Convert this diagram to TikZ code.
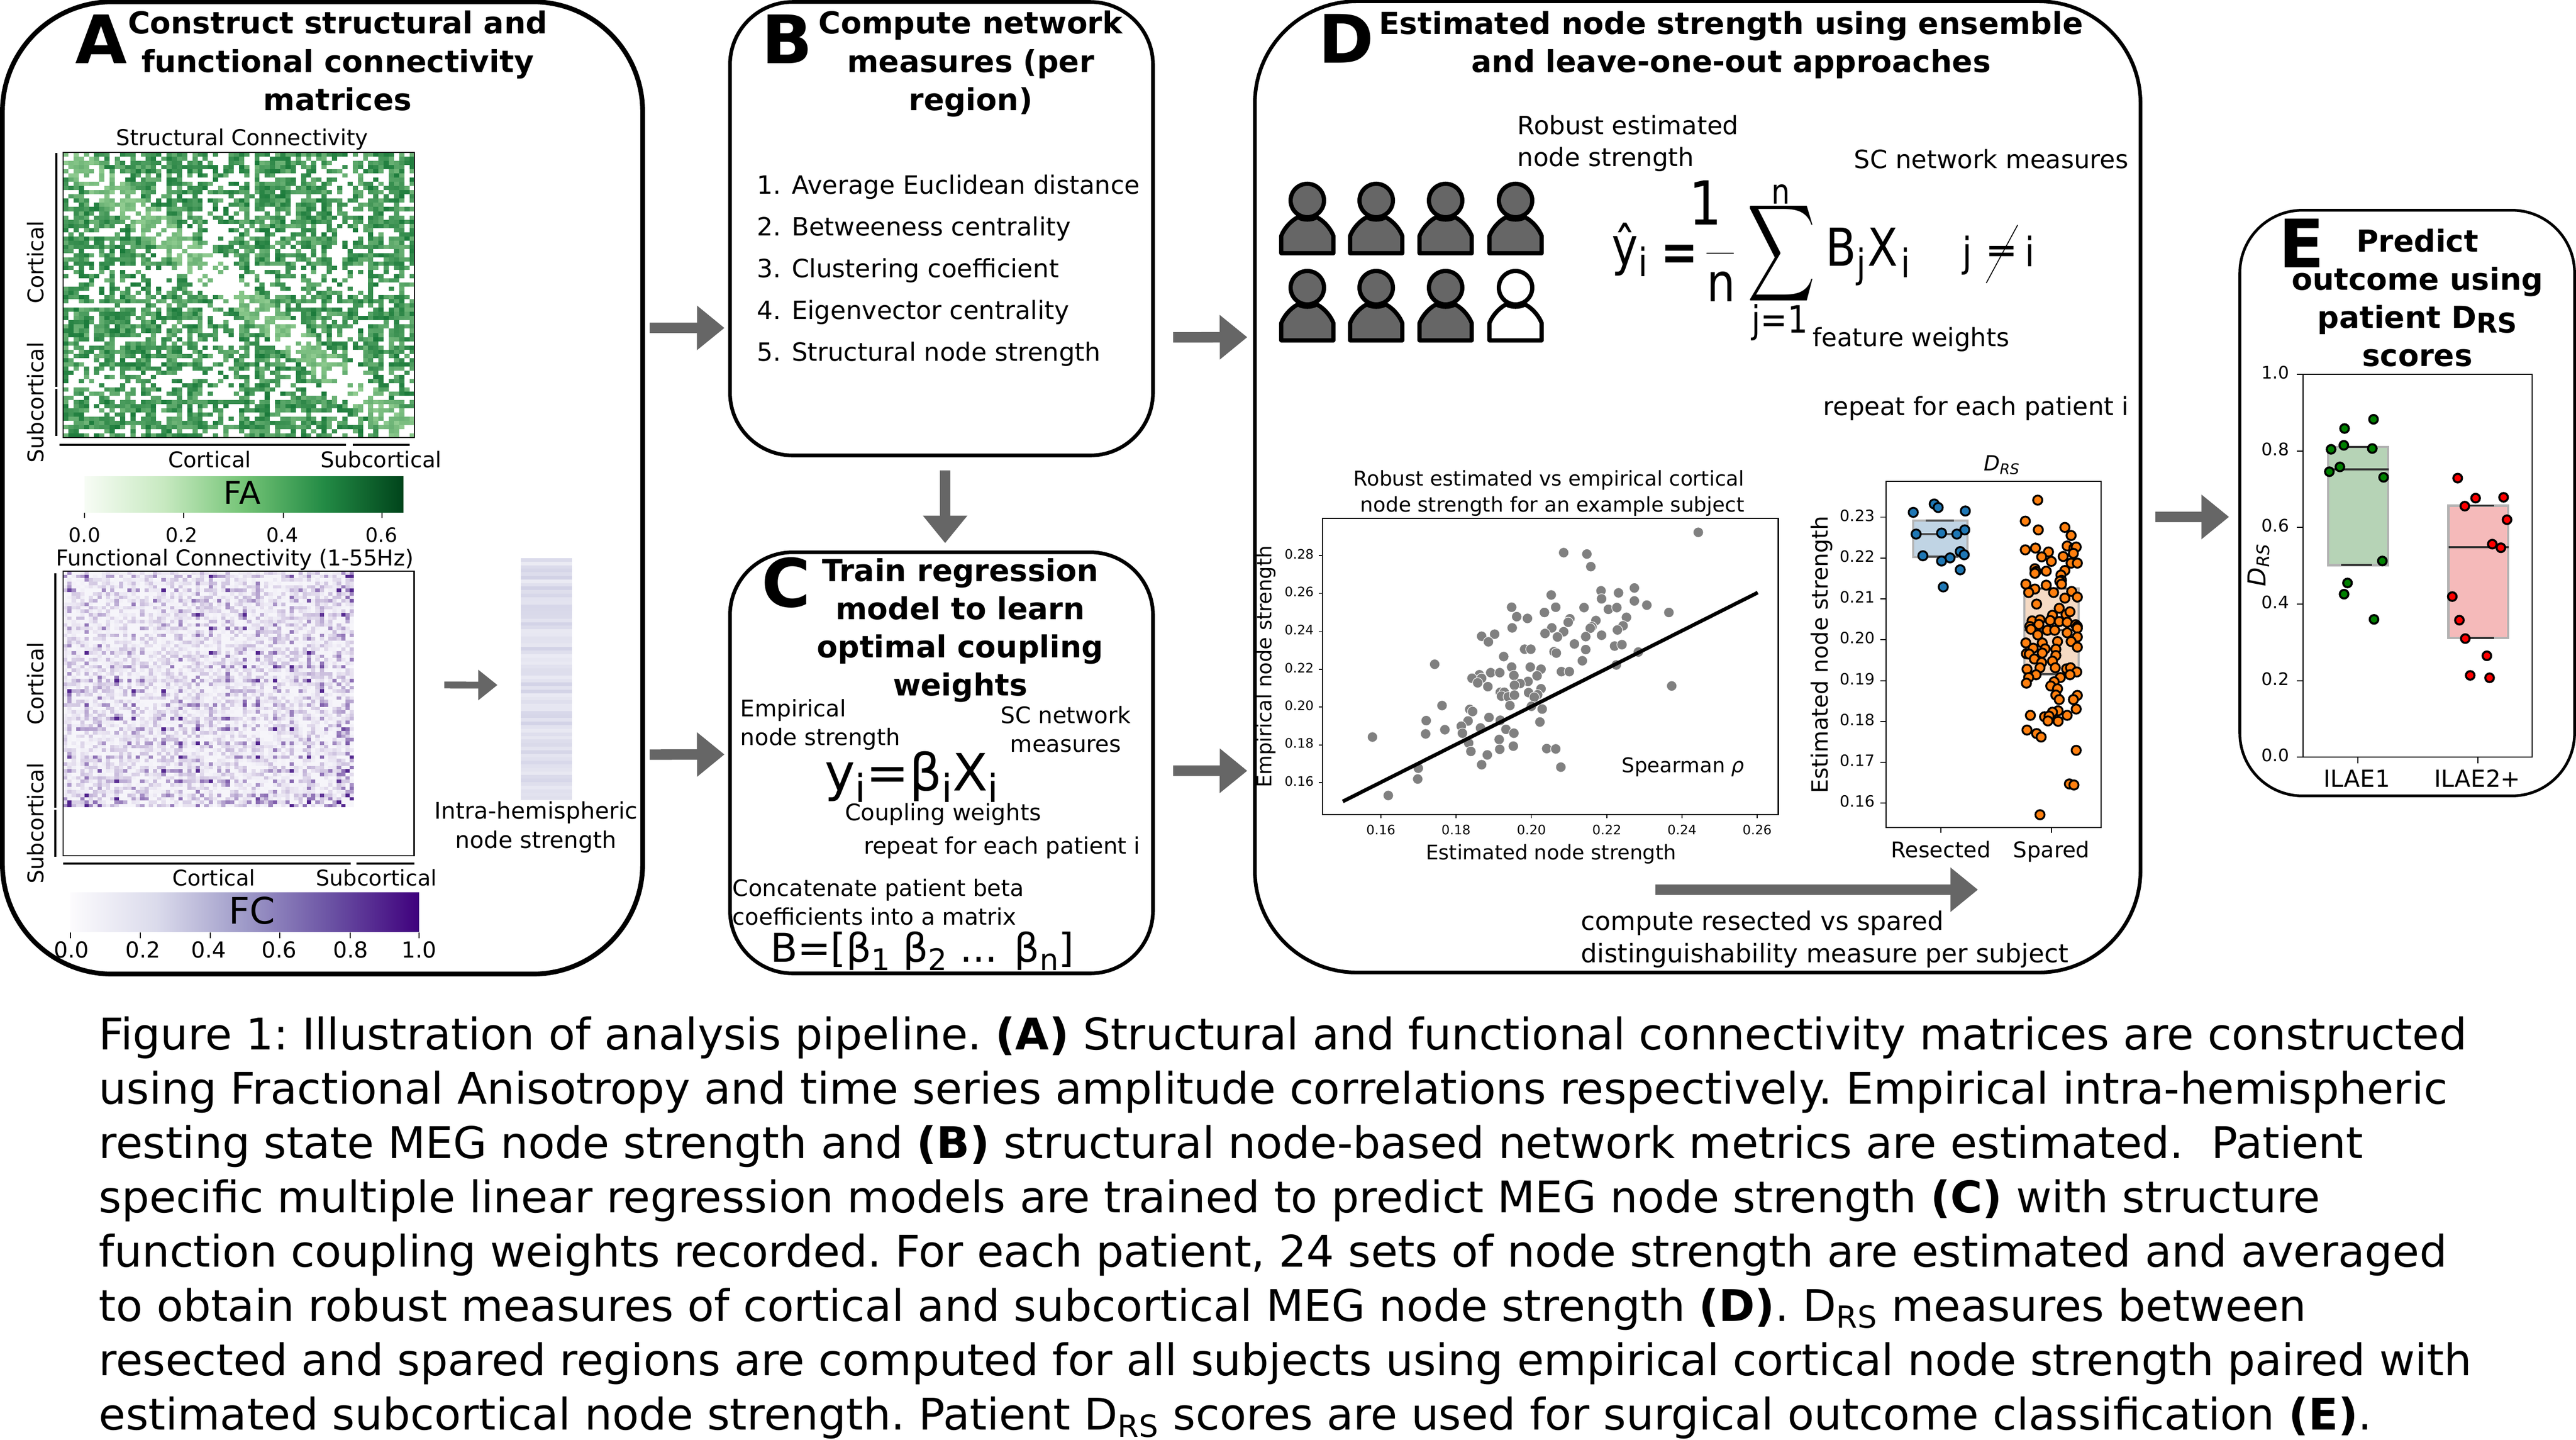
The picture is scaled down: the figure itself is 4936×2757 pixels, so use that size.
\documentclass[tikz,border=0pt]{standalone}
\usepackage{fontspec}
\usepackage{graphicx}
\setmainfont{DejaVu Sans}
\newfontfamily\formulafont[FakeStretch=.85]{DejaVu Sans}
\usetikzlibrary{arrows.meta}

\definecolor{arrowgray}{HTML}{666666}
\definecolor{gr0}{HTML}{F7FCF5}
\definecolor{gr1}{HTML}{C7E9C0}
\definecolor{gr2}{HTML}{74C476}
\definecolor{gr3}{HTML}{238B45}
\definecolor{gr4}{HTML}{00441B}
\definecolor{pu0}{HTML}{FCFBFD}
\definecolor{pu1}{HTML}{DADAEB}
\definecolor{pu2}{HTML}{9E9AC8}
\definecolor{pu3}{HTML}{6A51A3}
\definecolor{pu4}{HTML}{3F007D}
\definecolor{smdark}{HTML}{1A7A3A}
\definecolor{smlight}{HTML}{A6DBA0}
\definecolor{fcdark}{HTML}{54278F}
\definecolor{fclight}{HTML}{F6F5FA}
\definecolor{stripcol}{HTML}{D2D2E6}
\definecolor{dotblue}{HTML}{1F77B4}
\definecolor{dotorange}{HTML}{FF7F0E}
\definecolor{dotgreen}{HTML}{008000}
\definecolor{boxblue}{HTML}{C0D4E4}
\definecolor{boxorange}{HTML}{F5DAC4}
\definecolor{boxgreen}{HTML}{B6D3B6}
\definecolor{boxred}{HTML}{F5BABA}
\pgfdeclarehorizontalshading{greensbar}{100bp}{color(0bp)=(gr0);color(25bp)=(gr0);color(37.5bp)=(gr1);color(50bp)=(gr2);color(62.5bp)=(gr3);color(75bp)=(gr4);color(100bp)=(gr4)}
\pgfdeclarehorizontalshading{purplesbar}{100bp}{color(0bp)=(pu0);color(25bp)=(pu0);color(37.5bp)=(pu1);color(50bp)=(pu2);color(62.5bp)=(pu3);color(75bp)=(pu4);color(100bp)=(pu4)}
\newcommand{\lowsub}[1]{\raisebox{-.22em}{\scalebox{.75}{#1}}}

\tikzset{
  panel/.style = {draw, rectangle, rounded corners = 1.2cm, line width = 2pt, inner sep = 0},
  lab/.style = {inner sep = 0, execute at begin node = \strut, execute at end node = \strut},
  fs/.style = {lab, font = \fontsize{#1}{\fpeval{1.26*#1}}\selectfont},
  title/.style = {lab, align = center, font = \fontsize{16.5}{20.8}\bfseries\selectfont},
  bigletter/.style = {lab, font = \fontsize{36.4}{40}\bfseries\selectfont},
  formula/.style = {inner sep = 0, anchor = base west, font = \formulafont\fontsize{#1}{#1}\selectfont},
  blockarrow/.style = {draw = arrowgray, line width = 5.7pt, -{Triangle[width = 23.3pt, length = 15pt]}},
  smallarrow/.style = {draw = arrowgray, line width = 3.7pt, -{Triangle[width = 16pt, length = 10.5pt]}},
  frame/.style = {draw, rectangle, inner sep = 0, line width = .7pt},
  bar/.style = {line width = 1.3pt},
  person/.pic = {
    \draw [line width = 2.3pt, line join = round, fill = #1] (-50, 101) -- (-50, 68) .. controls (-44, 52) and (-30, 38) .. (-18, 32) .. controls (-8, 38) and (8, 38) .. (18, 32) .. controls (30, 38) and (44, 52) .. (50, 68) -- (50, 101) -- cycle;
    \draw [line width = 2.3pt, fill = #1] (0, 0) circle [x radius = 32, y radius = 32];
  }
}

\begin{document}
\begin{tikzpicture}[x = .01cm, y = -.01cm]
  \useasboundingbox (0, 0) rectangle (4936, 2757);

  % panels
  \node [panel, line width = 2.6pt, rounded corners = 2.1cm, minimum width = 12.26cm, minimum height = 18.61cm] (panelA) at (618, 934.5) {};
  \node [panel, minimum width = 8.1cm, minimum height = 8.68cm] (panelB) at (1804, 438) {};
  \node [panel, minimum width = 8.1cm, minimum height = 8.06cm] (panelC) at (1804, 1461) {};
  \node [panel, rounded corners = 1.95cm, minimum width = 16.96cm, minimum height = 18.59cm] (panelD) at (3253, 932.5) {};
  \node [panel, line width = 1.5pt, minimum width = 6.41cm, minimum height = 11.21cm] (panelE) at (4612.5, 963.5) {};

  % arrows between panels
  \draw [blockarrow] ([xshift = .09cm, yshift = 3.065cm] panelA.east) -- ([xshift = -.07cm, yshift = -1.9cm] panelB.west);
  \draw [blockarrow] ([xshift = .09cm, yshift = -5.105cm] panelA.east) -- ([xshift = -.07cm, yshift = .16cm] panelC.west);
  \draw [blockarrow] ([xshift = .35cm, yshift = -2.08cm] panelB.east) -- ([xshift = -.11cm, yshift = 2.865cm] panelD.west);
  \draw [blockarrow] ([xshift = .35cm, yshift = -.15cm] panelC.east) -- ([xshift = -.11cm, yshift = -5.435cm] panelD.west);
  \draw [blockarrow] ([xshift = .07cm, yshift = -.25cm] panelB.south) -- ([xshift = .07cm, yshift = .14cm] panelC.north);
  \draw [blockarrow] ([xshift = .25cm, yshift = -.575cm] panelD.east) -- ([xshift = -.18cm, yshift = -.265cm] panelE.west);

  % panel A
  \node [bigletter] (letterA) at (194, 93) {A};
  \node [title] (titleA) at (647, 127) {Construct structural and\\functional connectivity\\matrices};
  \node [fs = 11.9] (scTitle) at (464, 268) {Structural Connectivity};

  \pgfmathsetseed{23}
  \begin{scope}[shift = {(121, 292)}, x = .099cm, y = -.0803cm]
    \foreach \i in {0, ..., 67} {
      \pgfmathsetmacro\ri{((\i>26 && \i<34) || (\i>51 && \i<59)) ? .55 : (sin(\i*83)>.5 ? .6 : 1)}
      \foreach \j in {\i, ..., 67} {
        \pgfmathsetmacro\rj{((\j>26 && \j<34) || (\j>51 && \j<59)) ? .55 : (sin(\j*83)>.5 ? .6 : 1)}
        \pgfmathsetmacro\val{rnd}
        \pgfmathsetmacro\thr{\ri*\rj*.9}
        \ifdim\val pt<\thr pt
          \pgfmathtruncatemacro\pc{(abs(\i-\j)<5 ? 15 : 40) + (abs(\i-\j)<5 ? 30 : 60)*rnd}
          \fill [smdark!\pc!smlight] (\j, \i) rectangle +(1, 1);
          \fill [smdark!\pc!smlight] (\i, \j) rectangle +(1, 1);
        \fi
      }
    }
  \end{scope}
  \node [frame, minimum width = 6.73cm, minimum height = 5.46cm] (scBox) at (457.5, 565) {};
  \draw [bar] (108, 293) -- (108, 741);
  \draw [bar] (108, 745) -- (108, 835);
  \draw [bar] (114, 852) -- (663, 852);
  \draw [bar] (676, 852) -- (785, 852);
  \node [fs = 11.8, rotate = 90] (scCortY) at (73, 502) {Cortical};
  \node [fs = 11.8, rotate = 90] (scSubY) at (73, 771) {Subcortical};
  \node [fs = 11.8] (scCortX) at (402, 885) {Cortical};
  \node [fs = 11.8] (scSubX) at (730, 885) {Subcortical};

  \node [rectangle, inner sep = 0, shading = greensbar, minimum width = 6.11cm, minimum height = .68cm] (faBar) at (467.5, 947) {};
  \node [fs = 17.1] (faLabel) at (464, 950) {FA};
  \foreach \tx/\lx/\v [count = \n] in {162/162/0.0, 352/348/0.2, 543/541/0.4, 732/731/0.6} {
    \draw [line width = .6pt] (\tx, 982) -- (\tx, 992);
    \node [fs = 10.8] (faTick\n) at (\lx, 1029) {\v};
  }

  \node [fs = 11.9] (fcTitle) at (450, 1073) {Functional Connectivity (1-55Hz)};
  \pgfmathsetseed{5}
  \begin{scope}[shift = {(121, 1094)}, x = .0819cm, y = -.0665cm]
    \foreach \i in {0, ..., 67} {
      \pgfmathsetmacro\ri{(\i>63 || sin(\i*97)>.7) ? 1 : .45}
      \foreach \j in {\i, ..., 67} {
        \pgfmathsetmacro\rj{(\j>63 || sin(\j*97)>.7) ? 1 : .45}
        \pgfmathsetmacro\val{rnd}
        \pgfmathtruncatemacro\pc{\i==\j ? 0 : min(100, 100*\ri*\rj*\val*\val*(\val+.3)*1.1)}
        \fill [fcdark!\pc!fclight] (\j, \i) rectangle +(1, 1);
        \fill [fcdark!\pc!fclight] (\i, \j) rectangle +(1, 1);
      }
    }
  \end{scope}
  \node [frame, minimum width = 6.725cm, minimum height = 5.45cm] (fcBox) at (457.25, 1366.5) {};
  \draw [bar] (106, 1098) -- (106, 1547);
  \draw [bar] (106, 1551) -- (106, 1641);
  \draw [bar] (121, 1654) -- (672, 1654);
  \draw [bar] (683, 1654) -- (794, 1654);
  \node [fs = 11.8, rotate = 90] (fcCortY) at (73, 1309) {Cortical};
  \node [fs = 11.8, rotate = 90] (fcSubY) at (73, 1577) {Subcortical};
  \node [fs = 11.8] (fcCortX) at (410, 1686) {Cortical};
  \node [fs = 11.8] (fcSubX) at (721, 1686) {Subcortical};

  \node [rectangle, inner sep = 0, shading = purplesbar, minimum width = 6.68cm, minimum height = .75cm] (fcBar) at (469, 1746.5) {};
  \node [fs = 19.9] (fcLabel) at (483, 1752) {FC};
  \foreach \tx/\lx/\v [count = \n] in {135/137/0.0, 269/274/0.2, 403/400/0.4, 536/535/0.6, 671/672/0.8, 803/803/1.0} {
    \draw [line width = .6pt] (\tx, 1786) -- (\tx, 1797);
    \node [fs = 12] (fcTick\n) at (\lx, 1824) {\v};
  }

  \node [rectangle, inner sep = 0, minimum width = .98cm, minimum height = 4.63cm] (fcStrip) at (1047, 1300.5) {};
  \foreach \i in {0, ..., 67} {
    \pgfmathtruncatemacro\pc{45+55*rnd}
    \fill [stripcol!\pc!white] (998, {1069+6.81*\i}) rectangle (1096, {1069+6.81*(\i+1)});
  }
  \draw [smallarrow] ([xshift = .565cm, yshift = .545cm] fcBox.east) -- ([xshift = -.44cm, yshift = -.115cm] fcStrip.west);
  \node [fs = 12.5, align = center] (stripLabel) at (1027, 1588) {Intra-hemispheric\\node strength};

  % panel B
  \node [bigletter] (letterB) at (1508, 93) {B};
  \node [title] (titleB) at (1860, 127) {Compute network\\measures (per\\region)};
  \node [lab, anchor = west, fs = 13.7] (listOne) at (1450, 359) {1. Average Euclidean distance};
  \node [lab, anchor = west, fs = 13.7] (listTwo) at (1450, 439) {2. Betweeness centrality};
  \node [lab, anchor = west, fs = 13.7] (listThree) at (1450, 519) {3. Clustering coefficient};
  \node [lab, anchor = west, fs = 13.7] (listFour) at (1450, 599) {4. Eigenvector centrality};
  \node [lab, anchor = west, fs = 13.7] (listFive) at (1450, 679) {5. Structural node strength};

  % panel C
  \node [bigletter] (letterC) at (1506, 1134) {C};
  \node [title] (titleC) at (1840, 1212) {Train regression\\model to learn\\optimal coupling\\weights};
  \node [anchor = west, fs = 12.4, align = left] (empLabel) at (1418, 1392) {Empirical\\node strength};
  \node [fs = 12.4, align = center] (scLabel) at (2042, 1405) {SC network\\measures};
  \node [fs = 28] (regEq) at (1747, 1490) {y\lowsub{i}=β\lowsub{i}X\lowsub{i}};
  \node [fs = 12.4] (coupLabel) at (1807, 1560) {Coupling weights};
  \node [fs = 12.4] (repeatC) at (1920, 1624) {repeat for each patient i};
  \node [anchor = west, fs = 12.4, align = left] (concatLabel) at (1403, 1736) {Concatenate patient beta\\coefficients into a matrix};
  \node [fs = 21.6] (matEq) at (1767, 1823) {B=[β\lowsub{1} β\lowsub{2} ... β\lowsub{n}]};

  % panel D
  \node [bigletter] (letterD) at (2580, 92) {D};
  \node [title] (titleD) at (3317, 91) {Estimated node strength using ensemble\\and leave-one-out approaches};
  \node [anchor = west, fs = 13.7, align = left] (robustLabel) at (2907, 279) {Robust estimated\\node strength};
  \node [anchor = west, fs = 13.7] (scMeasures) at (3552, 310) {SC network measures};
  \foreach \colx/\rowy/\pcol [count = \n] in {2505/384/arrowgray, 2637/384/arrowgray, 2770/384/arrowgray, 2904/384/arrowgray, 2505/551/arrowgray, 2637/551/arrowgray, 2770/551/arrowgray, 2904/551/white}
    \pic (person\n) at (\colx, \rowy) {person = \pcol};
  \node [formula = 28.5] (eqHat) at (3088, 507) {\^y\lowsub{i}};
  \node [formula = 28.5] (eqEq) at (3182, 517) {\bfseries =};
  \node [formula = 33] (eqOne) at (3236, 430) {1};
  \draw [line width = .6pt] (3270, 485) -- (3322, 485);
  \node [formula = 29] (eqN) at (3270, 577) {n};
  \node [inner sep = 0] (eqSum) at (3414, 485) {\resizebox{1.3cm}{1.36cm}{$\displaystyle\sum$}};
  \node [formula = 18.8] (eqTop) at (3394, 390) {n};
  \node [formula = 20.5] (eqBot) at (3356, 637) {j=1};
  \node [formula = 28.5] (eqBX) at (3498, 509) {B\lowsub{j}\kern1pt X\lowsub{\kern2pt i}};
  \node [formula = 22] (eqJ) at (3760, 510) {j};
  \node [inner sep = 0] (eqNe) at (3835, 485) {\resizebox{.62cm}{.28cm}{\bfseries =}};
  \coordinate (neTop) at (3866, 431);
  \coordinate (neBottom) at (3806, 542);
  \draw [line width = .5pt] (neTop) -- (neBottom);
  \node [formula = 22] (eqI) at (3880, 510) {i};
  \node [anchor = west, fs = 13.7] (featLabel) at (3473, 651) {feature weights};
  \node [anchor = west, fs = 13.7] (repeatD) at (3493, 783) {repeat for each patient i};

  % scatter
  \node [fs = 11.1, align = right, anchor = east] (scatTitle) at (3343, 948) {Robust estimated vs empirical cortical\\node strength for an example subject};
  \begin{scope}[shift = {(2400, 850)}, x = .010841cm, y = -.006697cm]
    \foreach \x/\y in {788/253,550/311,591/315,598/351,675/412,616/420,647/426,528/432,617/443,675/449,697/461,458/467,536/467,586/468,629/473,644/468,516/482,736/482,467/494,486/499,561/500,661/496,558/510,607/505,459/526,529/526,600/523,597/527,655/520,645/532,517/542,550/537,428/544,405/550,539/552,589/551,617/547,417/566,569/572,640/578,653/574,481/587,492/587,589/588,533/594,537/598,682/595,444/608,583/620,322/630,643/632,458/638,491/638,510/644,421/654,437/654,546/651,560/651,401/660,462/662,503/663,388/670,405/670,487/679,398/683,473/685,463/690,416/694,510/700,741/692,438/710,445/710,488/711,440/721,504/717,452/723,463/718,498/724,335/748,455/748,493/750,384/759,389/765,512/758,418/782,307/791,381/792,438/790,508/795,369/807,403/812,448/816,340/817,371/827,462/827,212/838,306/829,436/845,382/855,461/864,437/873,520/871,536/872,386/879,415/889,405/917,293/927,545/924,292/958,240/1005}
      \filldraw [fill = black!50, draw = white, line width = .3pt] (\x, \y) circle (2.8pt);
  \end{scope}
  \coordinate (fitStart) at (2573, 1535);
  \coordinate (fitEnd) at (3368, 1135);
  \draw [line width = 2pt] (fitStart) -- (fitEnd);
  \node [frame, minimum width = 8.73cm, minimum height = 5.67cm] (scatBox) at (2970.5, 1276.5) {};
  \foreach \tx/\v [count = \n] in {2646/0.16, 2790/0.18, 2934.5/0.20, 3079/0.22, 3223/0.24, 3367/0.26} {
    \draw [line width = .5pt] (\tx, 1560) -- (\tx, 1567);
    \node [fs = 7.1] (scatX\n) at (\tx, 1592) {\v};
  }
  \foreach \ty/\v [count = \n] in {1064/0.28, 1136.6/0.26, 1209.6/0.24, 1282/0.22, 1354/0.20, 1426.6/0.18, 1499/0.16} {
    \draw [line width = .5pt] (2534, \ty) -- (2527, \ty);
    \node [fs = 7.1, anchor = east] (scatY\n) at (2518, \ty) {\v};
  }
  \node [fs = 11, rotate = 90] (scatYlabel) at (2427, 1277) {Empirical node strength};
  \node [fs = 11] (scatXlabel) at (2972, 1637) {Estimated node strength};
  \node [fs = 11, anchor = east] (spearman) at (3343, 1470) {Spearman \textit{ρ}};

  % resected vs spared
  \node [fs = 11.4] (drsTitle) at (3836, 891) {\textit{D\textsubscript{RS}}};
  \fill [boxblue] (3666, 997) rectangle (3770, 1067);
  \draw [black!30, line width = 1.2pt] (3666, 997) rectangle (3770, 1067);
  \draw [black!70, line width = 1.1pt] (3690, 997) -- (3744, 997) (3666, 1023) -- (3770, 1023) (3680, 1066) -- (3752, 1066);
  \fill [boxorange] (3879, 1127) rectangle (3983, 1292);
  \draw [black!30, line width = 1.2pt] (3879, 1127) rectangle (3983, 1292);
  \draw [black!70, line width = 1.1pt] (3905, 1127) -- (3960, 1127) (3879, 1207) -- (3983, 1207) (3905, 1291) -- (3960, 1291);
  \begin{scope}[shift = {(2400, 850)}, x = .010841cm, y = -.006697cm]
    \foreach \x/\y in {1205/172,1212/182,1168/196,1260/192,1259/246,1173/258,1218/255,1245/258,1251/308,1258/317,1185/320,1233/326,1218/335,1251/360,1221/409}
      \filldraw [fill = dotblue, draw = black, line width = 1pt] (\x, \y) circle (2.5pt);
    \foreach \x/\y in {1388/161,1366/221,1436/239,1389/246,1447/262,1366/303,1384/298,1440/292,1452/298,1456/295,1407/309,1451/313,1395/323,1433/322,1412/336,1447/341,1458/341,1383/357,1385/365,1403/364,1436/362,1383/370,1429/375,1430/390,1427/393,1367/401,1403/404,1430/401,1383/415,1372/425,1416/425,1448/422,1436/441,1458/438,1386/458,1426/470,1414/490,1438/488,1445/480,1378/506,1392/503,1410/505,1426/508,1440/510,1455/517,1374/522,1376/530,1390/516,1405/533,1418/533,1388/546,1458/522,1458/527,1440/540,1458/552,1447/565,1367/569,1423/565,1396/569,1380/584,1401/586,1420/587,1458/581,1368/600,1373/601,1396/598,1382/615,1420/605,1395/625,1414/621,1392/640,1369/644,1419/640,1439/643,1446/640,1457/652,1385/660,1445/660,1372/668,1428/668,1417/680,1368/684,1411/692,1423/700,1420/718,1426/731,1458/719,1451/731,1456/758,1424/763,1414/767,1375/776,1400/780,1408/778,1440/776,1406/792,1424/793,1369/818,1386/828,1394/838,1456/876,1444/972,1452/975,1392/1060}
      \filldraw [fill = dotorange, draw = black, line width = 1pt] (\x, \y) circle (2.5pt);
  \end{scope}
  \node [frame, minimum width = 4.12cm, minimum height = 6.63cm] (drsBox) at (3820, 1253.5) {};
  \foreach \ty/\v [count = \n] in {990.6/0.23, 1069/0.22, 1147/0.21, 1225/0.20, 1304/0.19, 1382/0.18, 1460/0.17, 1538/0.16} {
    \draw [line width = .5pt] (3614, \ty) -- (3603, \ty);
    \node [fs = 8.5, anchor = east] (drsY\n) at (3593, \ty) {\v};
  }
  \foreach \tx/\v [count = \n] in {3719/Resected, 3931/Spared} {
    \draw [line width = .5pt] (\tx, 1585) -- (\tx, 1595);
    \node [fs = 11.8] (drsX\n) at (\tx, 1632) {\v};
  }
  \node [fs = 12.2, rotate = 90] (drsYlabel) at (3492, 1254) {Estimated node strength};
  \coordinate (resectFrom) at (3172, 1704);
  \coordinate (resectTo) at (3790, 1704);
  \draw [blockarrow] (resectFrom) -- (resectTo);
  \node [anchor = west, fs = 13.9, align = left] (distLabel) at (3029, 1803) {compute resected vs spared\\distinguishability measure per subject};

  % panel E
  \node [bigletter] (letterE) at (4410, 484) {E};
  \node [title] (titleE) at (4632, 581) {Predict\\outcome using\\patient D\raisebox{-.15em}{\scalebox{.9}{RS}}\\scores};
  \fill [boxgreen] (4461, 856) rectangle (4575.6, 1082.5);
  \draw [black!30, line width = 1.2pt] (4461, 856) rectangle (4575.6, 1082.5);
  \draw [black!80, line width = .9pt] (4486, 856) -- (4545, 856) (4461, 899) -- (4577, 899) (4486, 1082) -- (4545, 1082);
  \fill [boxred] (4691.5, 968.5) rectangle (4805.6, 1222);
  \draw [black!30, line width = 1.2pt] (4691.5, 968.5) rectangle (4805.6, 1222);
  \draw [black!80, line width = .9pt] (4716, 968.5) -- (4779, 968.5) (4691.5, 1048) -- (4807, 1048) (4716, 1222) -- (4779, 1222);
  \begin{scope}[shift = {(4200, 380)}, x = .004695cm, y = -.007653cm]
    \foreach \x/\y in {622/575,740/552,567/627,619/617,735/625,603/671,560/683,781/697,776/906,634/961,620/989,742/1052}
      \filldraw [fill = dotgreen, draw = black, line width = 1.1pt] (\x, \y) circle (2.35pt);
    \foreach \x/\y in {1083/699,1156/749,1270/747,1112/769,1284/803,1224/864,1259/873,1061/995,1090/1054,1114/1100,1202/1143,1134/1192,1213/1198}
      \filldraw [fill = red, draw = black, line width = 1.1pt] (\x, \y) circle (2.35pt);
  \end{scope}
  \node [frame, minimum width = 4.39cm, minimum height = 7.33cm] (ilaeBox) at (4632.5, 1083.5) {};
  \foreach \ty/\v [count = \n] in {717/1.0, 864/0.8, 1010/0.6, 1157/0.4, 1304/0.2, 1450/0.0} {
    \draw [line width = .5pt] (4413, \ty) -- (4401, \ty);
    \node [fs = 9.4, anchor = east] (ilaeY\n) at (4387, \ty) {\v};
  }
  \foreach \tx/\lx/\v [count = \n] in {4518/4516/ILAE1, 4748/4747/ILAE2+} {
    \draw [line width = .5pt] (\tx, 1450) -- (\tx, 1462);
    \node [fs = 12.8] (ilaeX\n) at (\lx, 1496) {\v};
  }
  \node [fs = 13.5, rotate = 90] (ilaeYlabel) at (4329, 1082) {\textit{D\textsubscript{RS}}};

  % caption
  \node [anchor = north west, inner sep = 0, align = left, font = \frenchspacing\fontsize{23.75}{29.6}\selectfont] (caption) at (189, 1946) {Figure 1: Illustration of analysis pipeline. \textbf{(A)} Structural and functional connectivity matrices are constructed\\
    using Fractional Anisotropy and time series amplitude correlations respectively. Empirical intra-hemispheric\\
    resting state MEG node strength and \textbf{(B)} structural node-based network metrics are estimated.\ \ Patient\\
    specific multiple linear regression models are trained to predict MEG node strength \textbf{(C)} with structure\\
    function coupling weights recorded. For each patient, 24 sets of node strength are estimated and averaged\\
    to obtain robust measures of cortical and subcortical MEG node strength \textbf{(D)}. D\textsubscript{RS} measures between\\
    resected and spared regions are computed for all subjects using empirical cortical node strength paired with\\
    estimated subcortical node strength. Patient D\textsubscript{RS} scores are used for surgical outcome classification \textbf{(E)}.};
\end{tikzpicture}
\end{document}
